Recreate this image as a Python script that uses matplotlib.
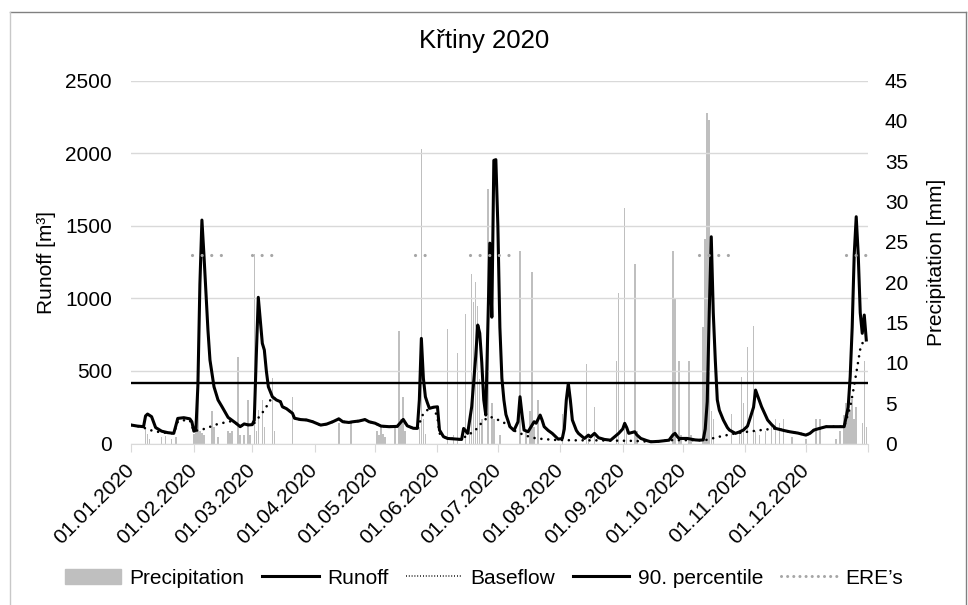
import matplotlib
matplotlib.use('Agg')
import matplotlib.pyplot as plt
import pandas as pd
from matplotlib.lines import Line2D
from matplotlib.patches import Patch

plt.rcParams['font.family'] = ['Liberation Sans', 'DejaVu Sans']

# days counted from 01.01.2020
runoff_day = [0, 3, 6, 7, 8, 10, 12, 15, 18, 21, 22, 23, 26, 29, 30, 31, 32, 33, 34, 35,
              36, 37, 38, 39, 41, 43, 45, 48, 52, 54, 56, 58, 60, 61, 62, 63, 64, 65, 66, 67,
              68, 70, 72, 74, 75, 77, 80, 81, 84, 87, 90, 94, 97, 100, 103, 105, 108, 110, 113, 116,
              118, 121, 124, 128, 132, 135, 137, 140, 142, 143, 144, 145, 146, 147, 148, 150, 152, 153, 155, 157,
              160, 164, 165, 167, 169, 171, 172, 173, 174, 175, 176, 177, 178, 179, 180, 181, 182, 183, 184, 185,
              186, 188, 190, 192, 193, 194, 195, 197, 199, 200, 201, 203, 204, 205, 207, 209, 212, 214, 215, 216,
              217, 218, 219, 221, 222, 225, 227, 228, 230, 232, 235, 238, 242, 244, 245, 246, 247, 250, 251, 253,
              256, 258, 262, 265, 267, 269, 270, 271, 272, 276, 280, 282, 284, 285, 286, 287, 288, 289, 290, 291,
              292, 294, 296, 297, 300, 302, 304, 306, 307, 309, 310, 311, 313, 316, 318, 320, 324, 327, 331, 335,
              337, 339, 342, 345, 350, 354, 356, 357, 358, 359, 360, 361, 362, 363, 364, 365]
runoff_val = [127, 120, 116, 190, 203, 185, 110, 85, 75, 70, 120, 173, 178, 170, 150, 85, 93, 400, 1100, 1539,
              1300, 1034, 780, 575, 391, 300, 253, 180, 139, 116, 135, 128, 130, 160, 600, 1007, 850, 690, 644, 500,
              391, 322, 300, 288, 253, 240, 208, 174, 165, 162, 150, 127, 134, 150, 170, 150, 145, 150, 155, 165,
              150, 140, 120, 116, 118, 166, 122, 105, 104, 300, 724, 450, 322, 280, 242, 250, 253, 93, 47, 35,
              32, 28, 104, 70, 253, 600, 816, 760, 560, 300, 196, 800, 1380, 870, 1950, 1955, 1500, 800, 450, 300,
              200, 116, 90, 150, 322, 200, 93, 81, 127, 150, 140, 196, 160, 116, 90, 70, 30, 35, 100, 300,
              414, 300, 162, 90, 70, 35, 58, 45, 70, 40, 28, 23, 70, 100, 139, 110, 70, 81, 60, 35,
              20, 12, 15, 20, 23, 60, 70, 50, 35, 35, 25, 23, 25, 100, 288, 900, 1424, 900, 575, 300,
              230, 162, 110, 93, 70, 80, 93, 120, 162, 250, 368, 330, 253, 162, 130, 104, 90, 81, 72, 58,
              70, 93, 105, 116, 116, 116, 250, 460, 800, 1300, 1562, 1300, 900, 759, 885, 713]

baseflow_day = [0, 3, 6, 9, 13, 18, 21, 23, 26, 29, 31, 36, 43, 50, 52, 54, 56, 58, 61, 66,
                70, 72, 74, 75, 77, 80, 81, 84, 87, 90, 94, 97, 100, 103, 105, 108, 110, 113, 116, 118,
                121, 124, 128, 132, 135, 137, 140, 142, 145, 148, 150, 152, 153, 155, 157, 160, 164, 167, 170, 172,
                175, 178, 181, 184, 187, 190, 193, 197, 201, 210, 220, 230, 240, 250, 258, 262, 265, 267, 272, 280,
                285, 292, 300, 306, 313, 320, 324, 327, 331, 335, 337, 339, 342, 345, 350, 354, 357, 359, 360, 362,
                363, 365]
baseflow_val = [127, 120, 110, 93, 81, 72, 70, 150, 160, 160, 85, 100, 135, 155, 139, 116, 135, 128, 140, 230,
                322, 300, 288, 253, 240, 208, 174, 165, 162, 150, 127, 134, 150, 170, 150, 145, 150, 155, 165, 150,
                140, 120, 116, 118, 166, 122, 105, 104, 208, 242, 250, 180, 70, 47, 35, 32, 28, 60, 80, 110,
                160, 185, 170, 150, 130, 90, 70, 50, 35, 25, 22, 22, 20, 18, 12, 15, 20, 23, 23, 23,
                23, 47, 70, 81, 93, 104, 90, 81, 72, 58, 70, 93, 105, 116, 116, 116, 250, 400, 483, 650,
                690, 713]

rain_day = [7, 8, 9, 15, 17, 20, 22, 31, 32, 33, 34, 35, 36, 40, 41, 43, 48, 49, 50, 53,
            54, 56, 58, 59, 61, 62, 63, 65, 66, 70, 71, 80, 103, 109, 122, 123, 124, 125, 126, 131,
            133, 134, 135, 136, 143, 144, 145, 146, 157, 160, 162, 166, 168, 169, 170, 171, 172, 173, 174, 177,
            179, 180, 183, 193, 196, 198, 199, 200, 202, 214, 226, 227, 230, 241, 242, 245, 246, 250, 251, 269,
            270, 272, 273, 277, 278, 284, 285, 286, 287, 288, 289, 298, 302, 303, 304, 306, 309, 310, 312, 315,
            318, 320, 322, 324, 328, 335, 340, 342, 350, 352, 354, 355, 356, 357, 358, 359, 360, 363, 364, 365]
rain_mm = [1.9, 1.2, 0.6, 0.8, 0.9, 0.6, 0.8, 1.2, 1.5, 9.8, 1.5, 1.3, 1.0, 4.0, 2.0, 0.8, 1.5, 1.3, 1.5, 10.7,
           1.0, 1.0, 5.4, 1.0, 23.5, 1.5, 4.2, 5.4, 2.0, 8.1, 1.5, 5.8, 2.5, 2.5, 1.5, 1.0, 2.0, 1.2, 0.8, 2.2,
           13.9, 3.0, 5.8, 1.5, 2.1, 36.5, 3.0, 1.2, 14.2, 1.0, 11.2, 16.0, 2.0, 21.0, 17.5, 20.0, 17.0, 8.0, 3.0, 31.6,
           5.0, 3.0, 1.0, 23.9, 1.5, 4.0, 21.3, 2.0, 5.4, 3.6, 9.8, 1.0, 4.5, 10.2, 18.7, 29.2, 2.0, 22.2, 1.5, 23.9,
           17.9, 10.2, 1.0, 10.2, 1.0, 14.4, 25.4, 41.0, 40.1, 4.0, 3.0, 3.6, 1.5, 8.3, 5.0, 12.0, 14.6, 1.5, 1.0, 1.5,
           2.5, 3.0, 2.5, 3.0, 0.8, 0.5, 3.0, 3.0, 0.6, 1.5, 3.5, 5.0, 4.5, 4.0, 5.5, 3.0, 4.5, 2.5, 10.2, 2.0]

# extreme runoff events (start day, end day) and the level they are marked at
ere_start = [30, 60, 141, 168, 282, 355]
ere_end = [45, 70, 147, 190, 300, 365]
ere_level = 1300
percentile90 = 420

months = pd.date_range('2020-01-01', '2021-01-01', freq='MS')
month_pos = list((months - months[0]).days)
month_lab = [m.strftime('%d.%m.%Y') for m in months[:-1]] + ['']

fig = plt.figure(figsize=(9.68, 6.05), dpi=100)
ax = fig.add_axes([0.1358, 0.2669, 0.7612, 0.600])
ax2 = ax.twinx()
ax.set_zorder(ax2.get_zorder() + 1)
ax.patch.set_visible(False)

ax2.bar(rain_day, rain_mm, width=0.75, color='#bfbfbf')

ax.plot(baseflow_day, baseflow_val, color='black', lw=1.9,
        linestyle=(0, (0.01, 2.6)), dash_capstyle='round')
ax.plot(runoff_day, runoff_val, color='black', lw=2.2, solid_joinstyle='round')
ax.axhline(percentile90, color='black', lw=1.7)
for s, e in zip(ere_start, ere_end):
    ax.plot([s, e], [ere_level, ere_level], color='#a6a6a6', lw=2.3,
            linestyle=(0, (0.01, 3.0)), dash_capstyle='round')

ax.set_xlim(0, 366)
ax.set_ylim(0, 2500)
ax2.set_ylim(0, 45)
ax.set_yticks(range(0, 2501, 500))
ax2.set_yticks(range(0, 46, 5))
ax.grid(axis='y', color='#d9d9d9', lw=1)
ax.set_axisbelow(True)

for sp in ['top', 'left', 'right']:
    ax.spines[sp].set_visible(False)
for sp in ax2.spines.values():
    sp.set_visible(False)
ax.spines['bottom'].set_color('#d9d9d9')

ax.tick_params(axis='y', length=0, pad=14, labelsize=15)
ax2.tick_params(axis='y', length=0, pad=12, labelsize=15)
ax.set_xticks(month_pos)
ax.set_xticklabels(month_lab, rotation=45, ha='right', va='center', rotation_mode='anchor')
ax.tick_params(axis='x', length=6, color='#d9d9d9', labelsize=15, pad=11)

ax.set_ylabel('Runoff [m³]', fontsize=15)
ax.yaxis.set_label_coords(-0.1025, 0.5)
ax2.set_ylabel('Precipitation [mm]', fontsize=15)
ax2.yaxis.set_label_coords(1.0797, 0.5)

fig.text(0.5, 1 - 41 / 605, 'Křtiny 2020', ha='center', va='center', fontsize=18.5)

handles = [Patch(color='#bfbfbf'),
           Line2D([], [], color='black', lw=2.2),
           Line2D([], [], color='black', lw=1.2, linestyle=(0, (0.5, 1.2))),
           Line2D([], [], color='black', lw=2.2),
           Line2D([], [], color='#a6a6a6', lw=2.2, linestyle=(0, (0.01, 2.0)), dash_capstyle='round')]
labels = ['Precipitation', 'Runoff', 'Baseflow', '90. percentile', "ERE’s"]
fig.legend(handles, labels, loc='center', bbox_to_anchor=(0.5, 1 - 578 / 605), ncol=5,
           frameon=False, fontsize=15, handlelength=2.7, handletextpad=0.4, columnspacing=0.85)

# chart frame
fig.add_artist(Line2D([10 / 968, 966 / 968], [1 - 11.5 / 605] * 2, color='#808080', lw=1,
                      transform=fig.transFigure))
fig.add_artist(Line2D([10 / 968] * 2, [1 - 11.5 / 605, 0], color='#c8c8c8', lw=1,
                      transform=fig.transFigure))
fig.add_artist(Line2D([966 / 968] * 2, [1 - 11.5 / 605, 0], color='#808080', lw=1,
                      transform=fig.transFigure))

fig.savefig('out.png', dpi=100)
